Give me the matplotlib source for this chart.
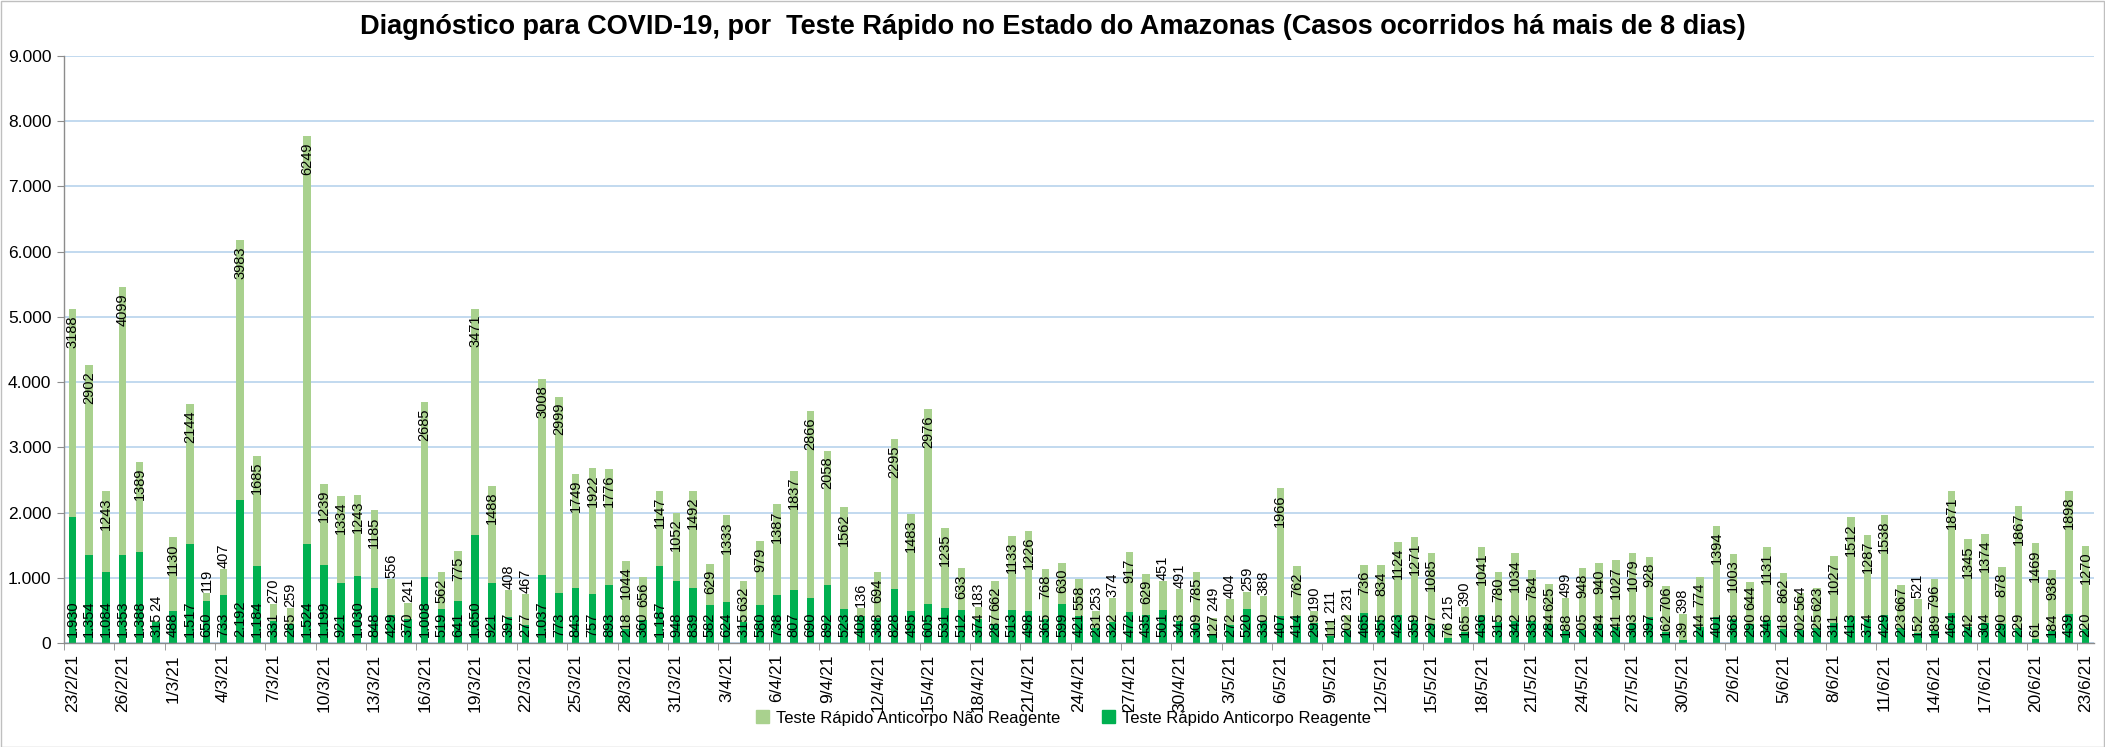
import numpy as np
import pandas as pd
import matplotlib
matplotlib.use("Agg")
import matplotlib.pyplot as plt
from matplotlib.patches import Rectangle
from matplotlib.ticker import FixedLocator, FuncFormatter

plt.rcParams['font.family'] = ['Liberation Sans', 'DejaVu Sans']

dates = pd.date_range('2021-02-23', '2021-06-23', freq='D')
date_labels = [f"{d.day}/{d.month}/21" for d in dates]

reagente = [1930, 1354, 1084, 1353, 1388, 315,
            488, 1517, 650, 733, 2192, 1184, 331, 285, 1524, 1199,
            921, 1030, 848, 429, 370, 1008, 519, 641, 1650, 921,
            397, 277, 1037, 773, 843, 757, 893, 218, 360, 1187, 948,
            839, 582, 624, 315, 580, 738, 807, 690, 892, 523,
            408, 388, 828, 495, 605, 531, 512, 374, 287, 513,
            498, 365, 599, 421, 231, 322, 472, 435, 501, 343,
            309, 127, 272, 520, 330, 407, 414, 299, 111, 202,
            465, 355, 423, 359, 297, 76, 165, 436, 315, 342,
            335, 284, 188, 205, 284, 241, 303, 397, 162, 39, 244,
            401, 368, 290, 346, 218, 202, 225, 311, 413, 374,
            429, 223, 152, 189, 464, 242, 304, 290, 229, 61,
            184, 439, 220]

nao_reagente = [3188, 2902, 1243, 4099, 1389, 24,
                1130, 2144, 119, 407, 3983, 1685, 270, 259, 6249, 1239,
                1334, 1243, 1185, 556, 241, 2685, 562, 775, 3471, 1488,
                408, 467, 3008, 2999, 1749, 1922, 1776, 1044, 656, 1147, 1052,
                1492, 629, 1333, 632, 979, 1387, 1837, 2866, 2058, 1562,
                136, 694, 2295, 1483, 2976, 1235, 633, 183, 662, 1133,
                1226, 768, 630, 558, 253, 374, 917, 629, 451, 491,
                785, 249, 404, 259, 388, 1966, 762, 190, 211, 231,
                736, 834, 1124, 1271, 1085, 215, 390, 1041, 780, 1034,
                784, 625, 499, 948, 940, 1027, 1079, 928, 706, 398, 774,
                1394, 1003, 644, 1131, 862, 564, 623, 1027, 1512, 1287,
                1538, 667, 521, 796, 1871, 1345, 1374, 878, 1867, 1469,
                938, 1898, 1270]

y_ticks = list(range(0, 10000, 1000))

title = "Diagnóstico para COVID-19, por  Teste Rápido no Estado do Amazonas (Casos ocorridos há mais de 8 dias)"
lbl_nr = "Teste Rápido Anticorpo Não Reagente"
lbl_r = "Teste Rápido Anticorpo Reagente"

dark = '#00B050'
light = '#A9D18E'
grid_c = '#BDD7EE'
axis_c = '#8C8C8C'

W, H = 2105, 747
fig = plt.figure(figsize=(W / 100, H / 100), dpi=100)
ax_l, ax_b, ax_w, ax_h = 64 / W, 1 - 643 / H, (2094 - 64) / W, (643 - 56) / H
ax = fig.add_axes([ax_l, ax_b, ax_w, ax_h])

n = len(dates)
x = np.arange(n)
R = np.array(reagente)
NR = np.array(nao_reagente)
bw = 0.45
ax.bar(x, R, width=bw, color=dark, zorder=2, linewidth=0)
ax.bar(x, NR, bottom=R, width=bw, color=light, zorder=2, linewidth=0)

ax.set_xlim(-0.5, n - 0.5)
ax.set_ylim(0, 9000)
ax.yaxis.set_major_locator(FixedLocator(y_ticks))
ax.yaxis.set_major_formatter(FuncFormatter(lambda v, p: f"{int(v):,}".replace(",", ".")))
ax.grid(axis='y', color=grid_c, linewidth=1.3, zorder=0)
ax.set_axisbelow(True)

lab_idx = [i for i in range(n) if i % 3 == 0]
ax.set_xticks(lab_idx)
ax.set_xticklabels([date_labels[i] for i in lab_idx], rotation=90, fontsize=12.5)
ax.set_xticks([i - 0.5 for i in lab_idx], minor=True)
ax.tick_params(axis='x', which='major', length=0, pad=8)
ax.tick_params(axis='x', which='minor', length=5, color=axis_c, direction='out')
ax.tick_params(axis='y', length=5, color=axis_c, labelsize=12.5, pad=4)

for s in ['top', 'right']:
    ax.spines[s].set_visible(False)
for s in ['left', 'bottom']:
    ax.spines[s].set_color(axis_c)
    ax.spines[s].set_linewidth(1.0)

# data labels
fs = 10.5
upp = 9000 / (ax_h * H)  # data units per pixel
pad_base = 6 * upp
pad_end = 6 * upp
gap = 2 * upp
r_texts, nr_texts = [], []
for i in range(n):
    rs = f"{R[i]:,}".replace(",", ".")
    t1 = ax.text(x[i], pad_base, rs, rotation=90, ha='center', va='bottom', fontsize=fs, zorder=4)
    t2 = ax.text(x[i], 0, str(NR[i]), rotation=90, ha='center', va='bottom', fontsize=fs, zorder=4)
    r_texts.append(t1)
    nr_texts.append(t2)

fig.canvas.draw()
renderer = fig.canvas.get_renderer()
for i in range(n):
    L1 = r_texts[i].get_window_extent(renderer).height * upp
    L2 = nr_texts[i].get_window_extent(renderer).height * upp
    top = R[i] + NR[i]
    r_top = pad_base + L1
    if L2 + 2 * pad_end <= NR[i]:
        yb = top - pad_end - L2
    else:
        yb = top + 1 * upp
    yb = max(yb, r_top + gap)
    nr_texts[i].set_y(yb)

fig.text(0.5, 1 - 27 / H, title, ha='center', va='center', fontsize=19.5, fontweight='bold')

handles = [Rectangle((0, 0), 1, 1, color=light), Rectangle((0, 0), 1, 1, color=dark)]
fig.legend(handles, [lbl_nr, lbl_r], loc='center', bbox_to_anchor=(0.505, 1 - 718 / H),
           ncol=2, frameon=False, fontsize=12, handlelength=0.8, handleheight=0.8,
           columnspacing=2.5, handletextpad=0.4)

fig.patches.append(Rectangle((0.5 / W, 0.5 / H), 1 - 1.5 / W, 1 - 1.5 / H, transform=fig.transFigure,
                             fill=False, edgecolor='#BFBFBF', linewidth=1))

fig.savefig('out.png', dpi=100)
